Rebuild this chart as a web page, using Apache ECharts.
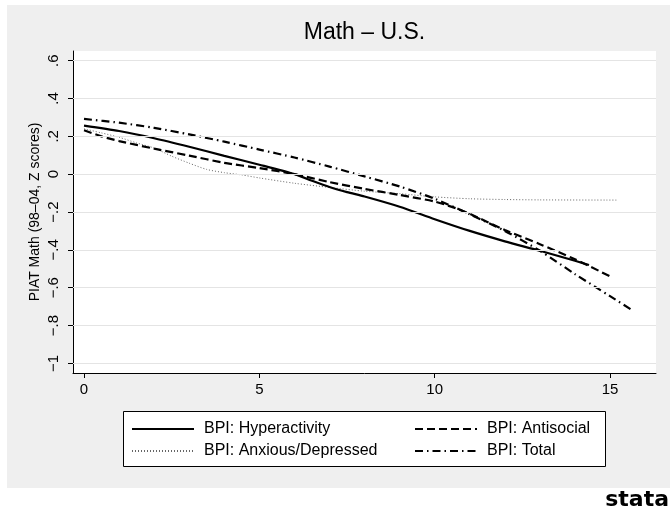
<!DOCTYPE html>
<html>
<head>
<meta charset="utf-8">
<script src="https://cdn.jsdelivr.net/npm/echarts@6/dist/echarts.min.js"></script>
<style>html,body{margin:0;padding:0;background:#fff;}#c{width:670px;height:513px;}</style>
</head>
<body>
<div id="c"></div>
<script>
var titleText = 'Math \u2013 U.S.';
var yTitle = 'PIAT Math (98\u201304, Z scores)';
var xTicks = [0, 5, 10, 15];
var yTicks = [-1, -0.8, -0.6, -0.4, -0.2, 0, 0.2, 0.4, 0.6];
var seriesNames = ['BPI: Hyperactivity', 'BPI: Antisocial', 'BPI: Anxious/Depressed', 'BPI: Total'];

var hyperactivity = [[0,0.257],[1,0.228],[2,0.19],[3,0.145],[4,0.097],[5,0.05],[6,0.0],[6.5,-0.035],[7,-0.068],[7.5,-0.095],[8,-0.118],[9,-0.172],[10,-0.238],[11,-0.3],[12,-0.355],[13,-0.405],[14,-0.458],[14.4,-0.48]];
var antisocial = [[0,0.232],[0.5,0.2],[1,0.175],[2,0.135],[3,0.098],[4,0.06],[5,0.032],[6,0.0],[7,-0.042],[8,-0.078],[9,-0.11],[10,-0.145],[10.6,-0.18],[11,-0.21],[12,-0.295],[13,-0.37],[14,-0.45],[15,-0.54]];
var anxious = [[0,0.24],[0.5,0.218],[1,0.195],[1.5,0.165],[2,0.138],[2.5,0.095],[3,0.058],[3.5,0.025],[4,0.008],[4.5,-0.004],[5,-0.02],[6,-0.048],[7,-0.07],[8,-0.09],[9,-0.103],[10,-0.12],[11,-0.13],[12,-0.134],[13,-0.136],[15.2,-0.137]];
var total = [[0,0.292],[1,0.272],[2,0.245],[3,0.21],[4,0.172],[5,0.13],[6,0.088],[7,0.04],[8,-0.012],[9,-0.065],[10,-0.13],[11,-0.212],[12,-0.3],[13,-0.405],[14,-0.528],[15,-0.645],[15.65,-0.721]];

var FONT = '"Liberation Sans", Arial, sans-serif';
function fmtY(v) {
  if (Math.abs(v) < 1e-9) return '0';
  var s = Math.abs(v).toFixed(1).replace(/\.0$/, '').replace(/^0/, '');
  return (v < 0 ? '\u2212' : '') + s;
}

var legendCommon = {orient: 'vertical', itemWidth: 62, itemHeight: 16, itemGap: 6, padding: 0, z: 5,
  itemStyle: {opacity: 0},
  textStyle: {fontSize: 16, fontFamily: FONT, color: '#000', lineHeight: 16, padding: [0,0,0,5]}};

var chart = echarts.init(document.getElementById('c'), null, {renderer: 'canvas'});
chart.setOption({
  animation: false,
  backgroundColor: '#ffffff',
  graphic: [
    {type: 'rect', z: -100, shape: {x: 7, y: 5, width: 663, height: 483}, style: {fill: '#efefef'}},
    {type: 'text', z: 10, x: 364.5, y: 33, style: {text: titleText, font: '23px ' + FONT, fill: '#000', textAlign: 'center', textVerticalAlign: 'middle'}},
    {type: 'rect', z: 1, shape: {x: 123.5, y: 411.5, width: 482, height: 55}, style: {fill: '#ffffff', stroke: '#000', lineWidth: 1}},
    {type: 'text', z: 10, x: 669, y: 500, style: {text: 'stata', font: 'bold 22px "DejaVu Sans", sans-serif', fill: '#000', textAlign: 'right', textVerticalAlign: 'middle'}}
  ],
  grid: {left: 73, top: 51, right: 14, bottom: 140, show: true, backgroundColor: '#ffffff', borderWidth: 0, containLabel: false},
  xAxis: {
    type: 'value', min: -0.314, max: 16.31,
    axisLine: {show: true, onZero: false, lineStyle: {color: '#000', width: 1}},
    axisTick: {show: true, length: 5, customValues: xTicks, lineStyle: {color: '#000'}},
    axisLabel: {customValues: xTicks, margin: 9, fontSize: 15, fontFamily: FONT, color: '#000'},
    splitLine: {show: false}
  },
  yAxis: {
    type: 'value', min: -1.051, max: 0.651,
    name: yTitle, nameLocation: 'middle', nameGap: 31, nameMoveOverlap: false,
    nameTextStyle: {fontSize: 14, fontFamily: FONT, color: '#000'},
    axisLine: {show: true, onZero: false, lineStyle: {color: '#000', width: 1}},
    axisTick: {show: true, length: 5, customValues: yTicks, lineStyle: {color: '#000'}},
    axisLabel: {customValues: yTicks, rotate: 90, margin: 12, fontSize: 15, fontFamily: FONT, color: '#000', formatter: fmtY},
    splitLine: {show: false}
  },
  legend: [
    Object.assign({left: 131, top: 421, data: [seriesNames[0], seriesNames[2]]}, legendCommon),
    Object.assign({left: 414, top: 421, data: [seriesNames[1], seriesNames[3]]}, legendCommon)
  ],
  series: [
    {name: 'grid', type: 'line', data: [], silent: true, z: 1,
     markLine: {silent: true, symbol: 'none', label: {show: false},
       lineStyle: {color: '#e4e4e4', width: 1.2, type: 'solid'},
       data: yTicks.map(function (v) { return {yAxis: v}; })}},
    {name: seriesNames[0], type: 'line', data: hyperactivity, smooth: 0.25, symbol: 'none', z: 4,
     lineStyle: {color: '#000', width: 2.2, type: 'solid'}, itemStyle: {color: '#000'}},
    {name: seriesNames[1], type: 'line', data: antisocial, smooth: 0.25, symbol: 'none', z: 3,
     lineStyle: {color: '#000', width: 2.2, type: [8, 4]}, itemStyle: {color: '#000'}},
    {name: seriesNames[2], type: 'line', data: anxious, smooth: 0.25, symbol: 'none', z: 2,
     lineStyle: {color: '#666', width: 1, type: [1, 2]}, itemStyle: {color: '#666'}},
    {name: seriesNames[3], type: 'line', data: total, smooth: 0.25, symbol: 'none', z: 3,
     lineStyle: {color: '#000', width: 2.2, type: [8, 4, 1.5, 4]}, itemStyle: {color: '#000'}}
  ]
});
</script>
</body>
</html>
